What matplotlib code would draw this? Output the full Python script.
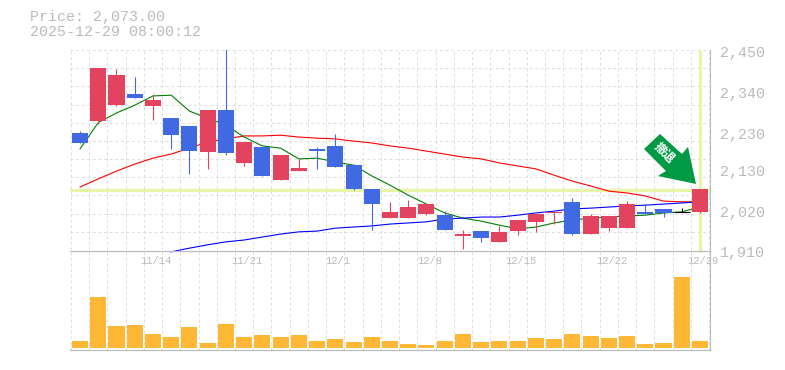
import numpy as np
import matplotlib
matplotlib.use("Agg")
import matplotlib.pyplot as plt
from matplotlib.patches import Polygon

W, H = 785, 370
plt.rcParams['font.family'] = ['Liberation Mono', 'Noto Sans CJK JP', 'DejaVu Sans']

title_price = "Price: 2,073.00"
title_time = "2025-12-29 08:00:12"
price_ticks = [2450, 2340, 2230, 2130, 2020, 1910]
date_idx = [4, 9, 14, 19, 24, 29, 34]
date_labels = ["11/14", "11/21", "12/1", "12/8", "12/15", "12/22", "12/29"]
current_price = 2073
signal_text = "撤退"

opens = [2226,2258,2301,2331,2299,2266,2245,2175,2288,2145,2188,2099,2123,2183,2191,2139,2075,1996,1996,2007,2004,1948,1961,1931,1961,1986,2010,2040,1953,1969,1969,2013,2021,2013,2013]
highs = [2231,2401,2399,2377,2331,2266,2245,2288,2480,2202,2188,2166,2156,2188,2223,2142,2075,2040,2045,2034,2015,1964,1961,1975,1991,2007,2013,2050,2007,2002,2042,2034,2021,2023,2075]
lows = [2200,2251,2299,2320,2261,2183,2115,2129,2166,2137,2110,2099,2123,2129,2134,2072,1964,1996,1996,2004,1964,1913,1931,1931,1950,1959,1980,1950,1953,1961,1969,2007,1999,2013,2010]
closes = [2200,2401,2382,2320,2315,2220,2177,2288,2172,2202,2110,2166,2131,2177,2134,2075,2034,2013,2026,2034,1964,1953,1942,1959,1991,2007,2013,1953,2002,2002,2034,2007,2010,2013,2075]

ma_short = [2183,2254,2280,2301,2326,2328,2285,2266,2247,2215,2191,2185,2156,2158,2148,2139,2110,2085,2058,2034,2010,1996,1988,1977,1967,1972,1983,1991,1996,1999,2002,2004,2010,2013,2026]
ma_mid = [2080,2102,2123,2142,2158,2169,2185,2202,2210,2218,2218,2220,2215,2212,2210,2204,2199,2191,2185,2177,2169,2161,2156,2145,2137,2129,2112,2096,2083,2069,2064,2056,2042,2040,2040]
ma_long = [np.nan]*5 + [1905,1915,1924,1932,1937,1945,1953,1959,1961,1969,1972,1975,1980,1983,1986,1994,1996,1999,1999,2004,2010,2015,2021,2023,2026,2029,2031,2034,2037,2040]
volumes = [70,510,220,230,140,110,210,50,240,110,130,110,130,70,90,60,110,70,40,30,70,140,60,70,70,100,90,140,120,100,120,40,50,710,70]

RED, BLUE, BLACK = '#e2435f', '#4169e1', '#000000'
ORANGE, GRID, AXIS, TXT, BAND = '#ffb835', '#dddddd', '#bbbbbb', '#bbbbbb', '#e6f5a8'
ARROW = '#009944'
THIN = 0.72

fig = plt.figure(figsize=(W/100, H/100), dpi=100, facecolor='white')
def axes_px(x0, y0, x1, y1):
    return fig.add_axes([x0/W, 1-y1/H, (x1-x0)/W, (y1-y0)/H])

ax = axes_px(70, 50, 710, 250)
av = axes_px(70, 250, 710, 350)
n = len(opens)
xs = np.arange(n)
xlim = (-0.55, n-1+0.55)
grid_x = np.arange(n+1) - 0.5
dash = (0, (2.8, 2.8))

for a in (ax, av):
    a.set_xlim(*xlim)
    a.patch.set_alpha(0)
    a.set_xticks([]); a.set_yticks([])
    for s in a.spines.values():
        s.set_visible(False)
    a.vlines(grid_x, 0, 1, transform=a.get_xaxis_transform(), colors=GRID, lw=THIN, linestyles=dash, zorder=1)

ax.set_ylim(1910, 2450)
for y in np.linspace(1910, 2450, 12)[1:]:
    ax.axhline(y, color=GRID, lw=THIN, ls=dash, zorder=1)

ax.axhline(current_price, color=BAND, lw=2.3, zorder=2)
ax.plot([n-1, n-1], [1904, 2450], color=BAND, lw=2.3, zorder=2, clip_on=False, solid_capstyle='butt')

for series, c in ((ma_mid, '#ff0000'), (ma_short, '#008000'), (ma_long, '#0000ff')):
    ax.plot(xs, series, color=c, lw=0.8, zorder=3, clip_on=False, antialiased=True)

for i in range(n):
    o, h, l, c = opens[i], highs[i], lows[i], closes[i]
    col = RED if c > o else BLUE if c < o else BLACK
    ax.plot([i, i], [l, h], color=col, lw=0.8, zorder=4, solid_capstyle='butt')
    bot, top = min(o, c), max(o, c)
    if top - bot < 1:
        ax.plot([i-0.44, i+0.44], [c, c], color=col, lw=0.8, zorder=5, solid_capstyle='butt')
    else:
        ax.bar(i, top-bot, bottom=bot, width=0.88, color=col, lw=0, zorder=5)

av.set_ylim(-20, 980)
av.bar(xs, volumes, width=0.88, color=ORANGE, lw=0, zorder=3)

# frame
line_kw = dict(color=AXIS, lw=0.9, solid_capstyle='projecting', zorder=6)
fig.add_artist(plt.Line2D([70/W, 710/W], [1-250.5/H]*2, **line_kw))
fig.add_artist(plt.Line2D([70/W, 710/W], [1-350/H]*2, **line_kw))
fig.add_artist(plt.Line2D([710/W]*2, [1-50/H, 1-350/H], color=AXIS, lw=0.8, zorder=6))

# text
big = 10.8
fig.text(30/W, 1-17.5/H, title_price, fontsize=big, color=TXT, va='center', ha='left')
fig.text(30/W, 1-32.5/H, title_time, fontsize=big, color=TXT, va='center', ha='left')
for p in price_ticks:
    ypx = 250 - (p-1910)/2.7
    fig.text(720/W, 1-(ypx+3.5)/H, f"{p:,}", fontsize=big, color=TXT, va='center', ha='left')
for i, lab in zip(date_idx, date_labels):
    xpx = 80 + i*18.235 + 3
    fig.text(xpx/W, 1-261/H, lab, fontsize=7.6, color=TXT, va='center', ha='center')

# arrow signal
pts = np.array([(660,134),(644,149),(666,171),(658,176),(696,184),(688,147),(682,154)], float)
pts = np.c_[pts[:,0]/W, 1-pts[:,1]/H]
fig.add_artist(Polygon(pts, closed=True, transform=fig.transFigure, fc=ARROW, ec='none', zorder=7))
fig.text(664/W, 1-153/H, signal_text, fontsize=8.5, color='white', rotation=-45, ha='center', va='center', rotation_mode='anchor', weight='bold', zorder=8, family=['Noto Sans CJK JP'])

fig.savefig('out.png', dpi=100)
